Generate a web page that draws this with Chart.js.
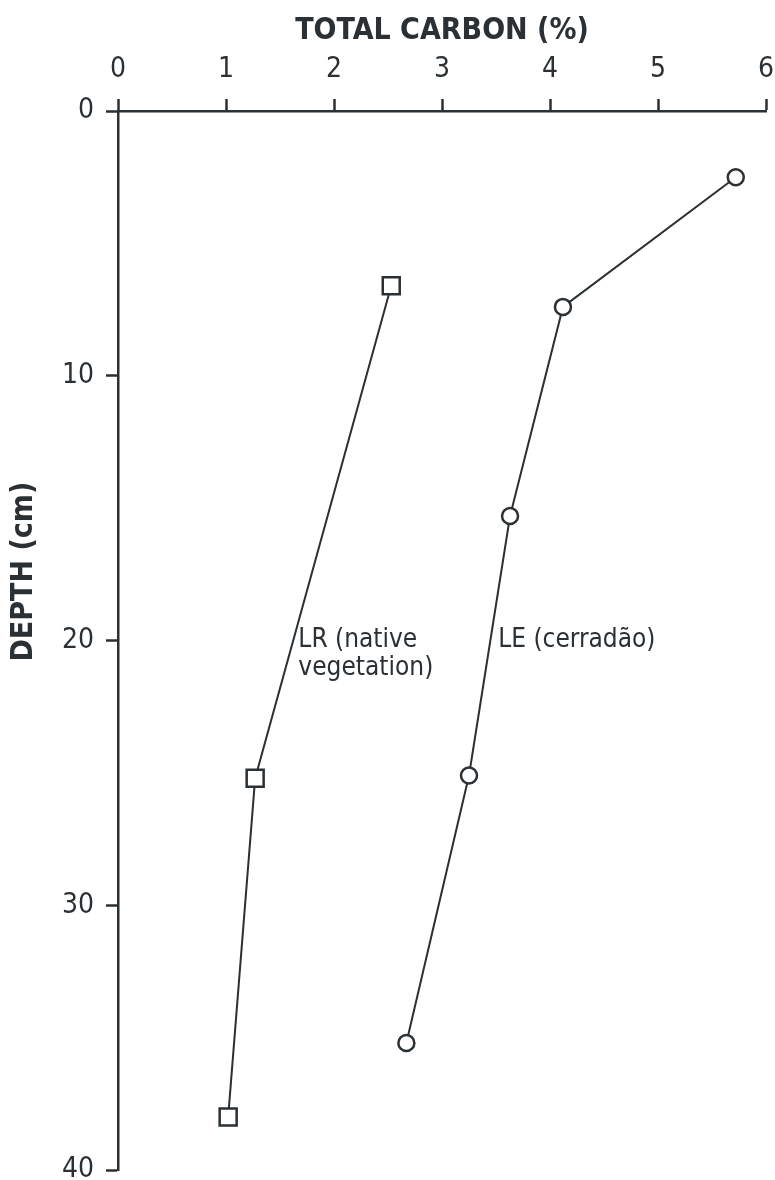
<!DOCTYPE html>
<html>
<head>
<meta charset="utf-8">
<script src="https://cdn.jsdelivr.net/npm/chart.js@4/dist/chart.umd.min.js"></script>
<style>
  html, body { margin: 0; padding: 0; background: #fff; }
  #wrap { width: 775px; height: 1180px; position: relative; }
</style>
</head>
<body>
<div id="wrap"><canvas id="c"></canvas></div>
<script>
/* ---- data ---- */
const carbonTicks = [0, 1, 2, 3, 4, 5, 6];
const depthTicks = [0, 10, 20, 30, 40];

const lrCarbon = [2.53, 1.27, 1.02];
const lrDepth  = [6.6, 25.2, 38.0];

const leCarbon = [5.72, 4.12, 3.63, 3.25, 2.67];
const leDepth  = [2.5, 7.4, 15.3, 25.1, 35.2];

const INK = '#2a3034';
const FONT = "'DejaVu Sans Condensed', 'Liberation Sans Narrow', 'Roboto', sans-serif";

function toPoints(xs, ys) {
  return xs.map((x, i) => ({ x, y: ys[i] }));
}

/* ─── titles + curve labels drawn on canvas ─── */
const textPlugin = {
  id: 'texts',
  afterDraw(chart) {
    const { ctx, scales } = chart;
    const x = scales.x, y = scales.y;
    ctx.save();
    ctx.fillStyle = INK;

    // x axis title
    ctx.font = 'bold 30px ' + FONT;
    ctx.textAlign = 'center';
    ctx.textBaseline = 'middle';
    ctx.fillText('TOTAL CARBON (%)', x.getPixelForValue(3), 31);

    // y axis title (rotated)
    ctx.save();
    ctx.translate(24, y.getPixelForValue(17.4));
    ctx.rotate(-Math.PI / 2);
    ctx.fillText('DEPTH (cm)', 0, 0);
    ctx.restore();

    // curve labels
    ctx.font = '26px ' + FONT;
    ctx.textAlign = 'left';
    ctx.fillText('LR (native', x.getPixelForValue(1.67), y.getPixelForValue(20.0));
    ctx.fillText('vegetation)', x.getPixelForValue(1.67), y.getPixelForValue(21.05));
    ctx.fillText('LE (cerradão)', x.getPixelForValue(3.52), y.getPixelForValue(20.0));
    ctx.restore();
  }
};

const lineStyle = {
  showLine: true,
  borderColor: INK,
  borderWidth: 2,
  backgroundColor: '#fff',
  pointBorderColor: INK,
  pointBorderWidth: 2.5,
  pointBackgroundColor: '#fff',
  tension: 0
};

new Chart(document.getElementById('c'), {
  type: 'scatter',
  data: {
    datasets: [
      { ...lineStyle, label: 'LR (native vegetation)', data: toPoints(lrCarbon, lrDepth),
        pointStyle: 'rect', pointRadius: 12, pointHoverRadius: 12 },
      { ...lineStyle, label: 'LE (cerradão)', data: toPoints(leCarbon, leDepth),
        pointStyle: 'circle', pointRadius: 8, pointHoverRadius: 8 }
    ]
  },
  options: {
    responsive: true, maintainAspectRatio: false,
    animation: false,
    layout: { autoPadding: false, padding: { left: 0, top: 0, right: 9, bottom: 10 } },
    plugins: { legend: { display: false }, tooltip: { enabled: false } },
    scales: {
      x: {
        type: 'linear', position: 'top', min: 0, max: 6,
        afterBuildTicks: s => { s.ticks = carbonTicks.map(v => ({ value: v })); },
        afterFit: s => { s.height = 111; s.paddingLeft = 0; s.paddingRight = 0; },
        border: { color: INK, width: 2.5 },
        grid: { drawOnChartArea: false, color: INK, tickLength: 12, tickWidth: 2.5 },
        ticks: { color: INK, font: { family: FONT, size: 28 }, padding: 12 }
      },
      y: {
        type: 'linear', reverse: true, min: 0, max: 40,
        afterBuildTicks: s => { s.ticks = depthTicks.map(v => ({ value: v })); },
        afterFit: s => { s.width = 118; s.paddingTop = 0; s.paddingBottom = 0; },
        border: { color: INK, width: 2.5 },
        grid: { drawOnChartArea: false, color: INK, tickLength: 12, tickWidth: 2.5 },
        ticks: { color: INK, font: { family: FONT, size: 28 }, padding: 12 }
      }
    }
  },
  plugins: [textPlugin]
});
</script>
</body>
</html>
